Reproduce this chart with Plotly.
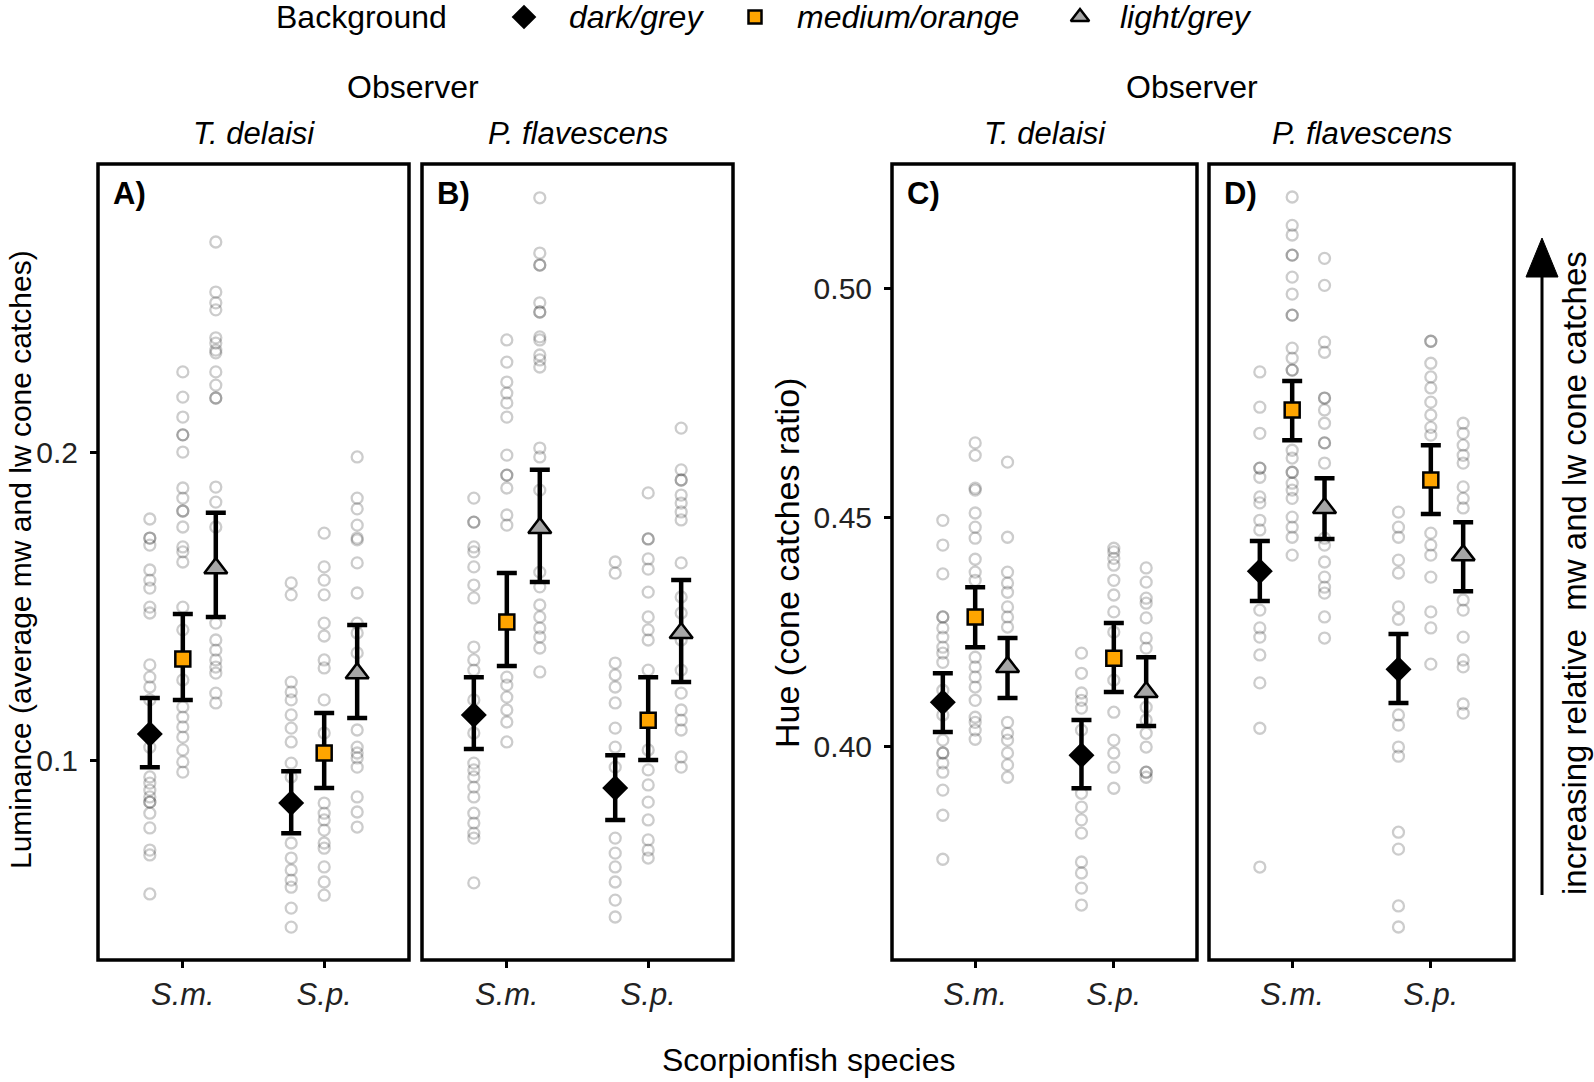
import plotly.graph_objects as go

# ---------------- categories ----------------
species = ["S.m.", "S.p."]
backgrounds = ["dark/grey", "medium/orange", "light/grey"]
observers = ["T. delaisi", "P. flavescens"]

lum_ticks = [0.1, 0.2]
lum_ticktext = ["0.1", "0.2"]
hue_ticks = [0.40, 0.45, 0.50]
hue_ticktext = ["0.40", "0.45", "0.50"]

# ---------------- Panel A: luminance, observer T. delaisi ----------------
A_sm_dark = [0.1785, 0.1723, 0.1723, 0.1700, 0.1619, 0.1586, 0.1560, 0.1498, 0.1479, 0.1310, 0.1270, 0.1238,
             0.1196, 0.1098, 0.1042, 0.0945, 0.0925, 0.0902, 0.0880, 0.0863, 0.0863, 0.0827, 0.0779, 0.0707,
             0.0691, 0.0564]
A_sm_med = [0.2264, 0.2182, 0.2117, 0.2059, 0.2059, 0.2003, 0.1886, 0.1853, 0.1811, 0.1811, 0.1759, 0.1694,
            0.1678, 0.1645, 0.1498, 0.1424, 0.1261, 0.1173, 0.1140, 0.1108, 0.1075, 0.1033, 0.0994, 0.0961]
A_sm_light = [0.2687, 0.2524, 0.2489, 0.2466, 0.2375, 0.2358, 0.2335, 0.2326, 0.2264, 0.2221, 0.2179, 0.2179,
              0.1889, 0.1840, 0.1759, 0.1446, 0.1391, 0.1358, 0.1326, 0.1303, 0.1283, 0.1218, 0.1186]
A_sp_dark = [0.1577, 0.1538, 0.1254, 0.1222, 0.1196, 0.1147, 0.1104, 0.1059, 0.0990, 0.0945, 0.0730, 0.0681,
             0.0642, 0.0609, 0.0586, 0.0518, 0.0456]
A_sp_med = [0.1739, 0.1629, 0.1586, 0.1538, 0.1446, 0.1404, 0.1326, 0.1300, 0.1196, 0.1088, 0.0860, 0.0827,
            0.0805, 0.0772, 0.0730, 0.0713, 0.0652, 0.0603, 0.0560]
A_sp_light = [0.1987, 0.1853, 0.1818, 0.1765, 0.1723, 0.1717, 0.1642, 0.1544, 0.1446, 0.1414, 0.1349, 0.1098,
              0.1042, 0.1023, 0.1007, 0.0977, 0.0880, 0.0831, 0.0782]
# order: S.m. dark, medium, light, S.p. dark, medium, light
A_mean = [0.1085, 0.1329, 0.1625, 0.0860, 0.1023, 0.1283]
A_lo = [0.0977, 0.1196, 0.1466, 0.0762, 0.0909, 0.1137]
A_hi = [0.1202, 0.1476, 0.1805, 0.0964, 0.1153, 0.1440]

# ---------------- Panel B: luminance, observer P. flavescens ----------------
B_sm_dark = [0.1853, 0.1775, 0.1775, 0.1694, 0.1678, 0.1629, 0.1570, 0.1528, 0.1368, 0.1326, 0.1293, 0.1196,
             0.1088, 0.0990, 0.0968, 0.0945, 0.0912, 0.0880, 0.0827, 0.0795, 0.0762, 0.0746, 0.0600]
B_sm_med = [0.2368, 0.2296, 0.2231, 0.2195, 0.2163, 0.2117, 0.1993, 0.1928, 0.1928, 0.1886, 0.1798, 0.1765,
            0.1270, 0.1244, 0.1205, 0.1163, 0.1124, 0.1059]
B_sm_light = [0.2831, 0.2651, 0.2612, 0.2612, 0.2489, 0.2459, 0.2459, 0.2378, 0.2368, 0.2319, 0.2303, 0.2280,
              0.2016, 0.1987, 0.1879, 0.1612, 0.1564, 0.1505, 0.1466, 0.1430, 0.1401, 0.1365, 0.1287]
B_sp_dark = [0.1645, 0.1609, 0.1316, 0.1277, 0.1238, 0.1186, 0.1104, 0.1042, 0.0977, 0.0746, 0.0697, 0.0652,
             0.0603, 0.0544, 0.0489]
B_sp_med = [0.1870, 0.1720, 0.1720, 0.1655, 0.1622, 0.1547, 0.1466, 0.1424, 0.1391, 0.1293, 0.1033, 0.0968,
            0.0919, 0.0863, 0.0805, 0.0740, 0.0707, 0.0681]
B_sp_light = [0.2081, 0.1945, 0.1912, 0.1912, 0.1863, 0.1837, 0.1808, 0.1782, 0.1642, 0.1531, 0.1479, 0.1391,
              0.1293, 0.1218, 0.1163, 0.1130, 0.1098, 0.1010, 0.0977]
B_mean = [0.1147, 0.1450, 0.1756, 0.0909, 0.1130, 0.1414]
B_lo = [0.1036, 0.1306, 0.1580, 0.0805, 0.1000, 0.1254]
B_hi = [0.1270, 0.1609, 0.1945, 0.1016, 0.1270, 0.1586]

# ---------------- Panel C: hue, observer T. delaisi ----------------
C_sm_dark = [0.4493, 0.4439, 0.4376, 0.4282, 0.4282, 0.4258, 0.4238, 0.4216, 0.4203, 0.4183, 0.4122, 0.4068,
             0.4013, 0.3985, 0.3985, 0.3963, 0.3943, 0.3904, 0.3849, 0.3753]
C_sm_med = [0.4662, 0.4635, 0.4563, 0.4559, 0.4509, 0.4478, 0.4454, 0.4408, 0.4380, 0.4362, 0.4194, 0.4173,
            0.4151, 0.4129, 0.4100, 0.4063, 0.4052, 0.4035, 0.4015]
C_sm_light = [0.4620, 0.4456, 0.4380, 0.4356, 0.4336, 0.4304, 0.4282, 0.4260, 0.4052, 0.4028, 0.4013, 0.3985,
              0.3959, 0.3932]
C_sp_dark = [0.4203, 0.4159, 0.4116, 0.4100, 0.4083, 0.4035, 0.3897, 0.3867, 0.3839, 0.3810, 0.3747, 0.3723,
             0.3690, 0.3653]
C_sp_med = [0.4432, 0.4424, 0.4410, 0.4395, 0.4362, 0.4330, 0.4293, 0.4249, 0.4144, 0.4074, 0.4013, 0.3985,
            0.3954, 0.3908]
C_sp_light = [0.4389, 0.4358, 0.4323, 0.4312, 0.4280, 0.4236, 0.4214, 0.4085, 0.4057, 0.4028, 0.3998, 0.3943,
              0.3943, 0.3932]
C_mean = [0.4096, 0.4282, 0.4173, 0.3980, 0.4192, 0.4118]
C_lo = [0.4031, 0.4216, 0.4105, 0.3908, 0.4118, 0.4044]
C_hi = [0.4159, 0.4347, 0.4236, 0.4057, 0.4269, 0.4194]

# ---------------- Panel D: hue, observer P. flavescens ----------------
D_sm_dark = [0.4817, 0.4740, 0.4683, 0.4607, 0.4607, 0.4587, 0.4544, 0.4531, 0.4493, 0.4472, 0.4297, 0.4258,
             0.4238, 0.4199, 0.4138, 0.4039, 0.3736]
D_sm_med = [0.5199, 0.5137, 0.5116, 0.5072, 0.5072, 0.5024, 0.4987, 0.4941, 0.4941, 0.4869, 0.4847, 0.4821,
            0.4821, 0.4646, 0.4629, 0.4598, 0.4598, 0.4574, 0.4559, 0.4541, 0.4500, 0.4478, 0.4456, 0.4417]
D_sm_light = [0.5065, 0.5006, 0.4882, 0.4860, 0.4760, 0.4760, 0.4734, 0.4705, 0.4662, 0.4662, 0.4618, 0.4454,
              0.4439, 0.4402, 0.4369, 0.4347, 0.4334, 0.4282, 0.4236]
D_sp_dark = [0.4511, 0.4478, 0.4456, 0.4406, 0.4378, 0.4304, 0.4277, 0.4068, 0.4046, 0.3998, 0.3978, 0.3812,
             0.3775, 0.3651, 0.3605]
D_sp_med = [0.4884, 0.4884, 0.4836, 0.4806, 0.4782, 0.4751, 0.4723, 0.4696, 0.4679, 0.4465, 0.4439, 0.4417,
            0.4369, 0.4293, 0.4258, 0.4179]
D_sp_light = [0.4705, 0.4683, 0.4657, 0.4635, 0.4618, 0.4566, 0.4541, 0.4520, 0.4319, 0.4297, 0.4238, 0.4188,
              0.4173, 0.4092, 0.4072]
D_mean = [0.4382, 0.4734, 0.4520, 0.4168, 0.4581, 0.4417]
D_lo = [0.4317, 0.4668, 0.4452, 0.4094, 0.4507, 0.4338]
D_hi = [0.4448, 0.4797, 0.4585, 0.4245, 0.4657, 0.4489]

lum_range = [0.0349, 0.2941]
hue_range = [0.3533, 0.5271]

# ---------------- styling / layout ----------------
W, H = 1594, 1082
TXT = "Liberation Sans, Arial, sans-serif"
DODGE = [-0.7 / 3, 0.0, 0.7 / 3]
PANEL_TOP, PANEL_BOT = 164, 960

mean_style = {
    "dark/grey": dict(symbol="diamond", size=20, color="black", line=dict(color="black", width=0)),
    "medium/orange": dict(symbol="square", size=15, color="#FFA500", line=dict(color="black", width=2.5)),
    "light/grey": dict(symbol="triangle-up", size=20, color="#A6A6A6", line=dict(color="black", width=2.5)),
}
legend_size = {"dark/grey": 19, "medium/orange": 13, "light/grey": 16}

panels = [
    dict(letter="A", obs=observers[0], px=(98, 409),
         pts=[[A_sm_dark, A_sm_med, A_sm_light], [A_sp_dark, A_sp_med, A_sp_light]],
         mean=A_mean, lo=A_lo, hi=A_hi, yr=lum_range, tv=lum_ticks, tt=lum_ticktext, showy=True),
    dict(letter="B", obs=observers[1], px=(422, 733),
         pts=[[B_sm_dark, B_sm_med, B_sm_light], [B_sp_dark, B_sp_med, B_sp_light]],
         mean=B_mean, lo=B_lo, hi=B_hi, yr=lum_range, tv=lum_ticks, tt=lum_ticktext, showy=False),
    dict(letter="C", obs=observers[0], px=(892, 1197),
         pts=[[C_sm_dark, C_sm_med, C_sm_light], [C_sp_dark, C_sp_med, C_sp_light]],
         mean=C_mean, lo=C_lo, hi=C_hi, yr=hue_range, tv=hue_ticks, tt=hue_ticktext, showy=True),
    dict(letter="D", obs=observers[1], px=(1209, 1514),
         pts=[[D_sm_dark, D_sm_med, D_sm_light], [D_sp_dark, D_sp_med, D_sp_light]],
         mean=D_mean, lo=D_lo, hi=D_hi, yr=hue_range, tv=hue_ticks, tt=hue_ticktext, showy=False),
]

fig = go.Figure()
layout = {}
shapes = []
annotations = []

for i, p in enumerate(panels, start=1):
    xa = "x" if i == 1 else f"x{i}"
    ya = "y" if i == 1 else f"y{i}"
    # raw observations
    for s in range(len(species)):
        for b in range(len(backgrounds)):
            vals = p["pts"][s][b]
            fig.add_trace(go.Scatter(
                x=[s + 1 + DODGE[b]] * len(vals), y=vals, mode="markers",
                marker=dict(symbol="circle-open", size=11, color="rgba(0,0,0,0.2)", line=dict(width=2.3)),
                xaxis=xa, yaxis=ya, showlegend=False, hoverinfo="skip"))
    # model means with error bars
    for b, bg in enumerate(backgrounds):
        idx = [b, 3 + b]
        m = [p["mean"][k] for k in idx]
        up = [p["hi"][k] - p["mean"][k] for k in idx]
        dn = [p["mean"][k] - p["lo"][k] for k in idx]
        fig.add_trace(go.Scatter(
            x=[s + 1 + DODGE[b] for s in range(len(species))], y=m, mode="markers",
            marker=mean_style[bg],
            error_y=dict(type="data", symmetric=False, array=up, arrayminus=dn,
                         thickness=4.5, width=10, color="black"),
            xaxis=xa, yaxis=ya, showlegend=False, name=bg))

    xk = "xaxis" if i == 1 else f"xaxis{i}"
    yk = "yaxis" if i == 1 else f"yaxis{i}"
    x0, x1 = p["px"]
    layout[xk] = dict(domain=[x0 / W, x1 / W], range=[0.4, 2.6], anchor=ya,
                      tickvals=[1, 2], ticktext=species, ticks="outside", ticklen=7, tickwidth=2.5,
                      tickcolor="black", showgrid=False, zeroline=False, showline=False,
                      ticklabelstandoff=0,
                      tickfont=dict(family=TXT, size=31, style="italic", color="#222"))
    layout[yk] = dict(domain=[1 - PANEL_BOT / H, 1 - PANEL_TOP / H], range=p["yr"], anchor=xa,
                      tickvals=p["tv"], ticktext=p["tt"], showticklabels=p["showy"],
                      ticks="outside" if p["showy"] else "", ticklen=7, tickwidth=2.5, tickcolor="black",
                      showgrid=False, zeroline=False, showline=False, ticklabelstandoff=6,
                      tickfont=dict(family=TXT, size=30, color="#222"))
    shapes.append(dict(type="rect", xref=f"{xa} domain", yref=f"{ya} domain", x0=0, x1=1, y0=0, y1=1,
                       line=dict(color="black", width=3.5), fillcolor="rgba(0,0,0,0)", layer="above"))
    # strip label
    annotations.append(dict(xref="x5", yref="y5", x=(x0 + x1) / 2, y=133, text=p["obs"], showarrow=False,
                            font=dict(family=TXT, size=31, style="italic", color="black")))
    # panel letter
    annotations.append(dict(xref="x5", yref="y5", x=x0 + 13, y=193, xanchor="left", text=f"<b>{p['letter']})</b>",
                            showarrow=False, font=dict(family=TXT, size=31, color="black")))

# overlay pixel axis for legend keys / decorations
layout["xaxis5"] = dict(domain=[0, 1], range=[0, W], anchor="y5", visible=False, fixedrange=True)
layout["yaxis5"] = dict(domain=[0, 1], range=[H, 0], anchor="x5", visible=False, fixedrange=True)

legend_keys_x = [524, 755, 1080]
legend_text_x = [567, 795, 1118]
for b, bg in enumerate(backgrounds):
    st = dict(mean_style[bg])
    st["size"] = legend_size[bg]
    fig.add_trace(go.Scatter(x=[legend_keys_x[b]], y=[17], mode="markers", marker=st,
                             xaxis="x5", yaxis="y5", showlegend=False, hoverinfo="skip", cliponaxis=False))
    annotations.append(dict(xref="x5", yref="y5", x=legend_text_x[b], y=17, xanchor="left", text=bg,
                            showarrow=False, font=dict(family=TXT, size=32, style="italic", color="black")))
annotations.append(dict(xref="x5", yref="y5", x=361, y=17, text="Background", showarrow=False,
                        font=dict(family=TXT, size=32, color="black")))

annotations += [
    dict(xref="x5", yref="y5", x=413, y=87, text="Observer", showarrow=False,
         font=dict(family=TXT, size=32, color="black")),
    dict(xref="x5", yref="y5", x=1192, y=87, text="Observer", showarrow=False,
         font=dict(family=TXT, size=32, color="black")),
    dict(xref="x5", yref="y5", x=808, y=1060, text="Scorpionfish species", showarrow=False,
         font=dict(family=TXT, size=32, color="black")),
    dict(xref="x5", yref="y5", x=20, y=560, text="Luminance (average mw and lw cone catches)", textangle=-90,
         showarrow=False, font=dict(family=TXT, size=30, color="black")),
    dict(xref="x5", yref="y5", x=787, y=563, text="Hue (cone catches ratio)", textangle=-90,
         showarrow=False, font=dict(family=TXT, size=34, color="black")),
    dict(xref="x5", yref="y5", x=1574, y=573, text="increasing relative&nbsp; mw and lw cone catches",
         textangle=-90, showarrow=False, font=dict(family=TXT, size=33, color="black")),
]

# arrow on the right
shapes.append(dict(type="line", xref="x5", yref="y5", x0=1542, x1=1542, y0=895, y1=272,
                   line=dict(color="black", width=3)))
shapes.append(dict(type="path", xref="x5", yref="y5", path="M 1526 277 L 1558 277 L 1542 238 Z",
                   fillcolor="black", line=dict(color="black", width=1)))

fig.update_layout(
    width=W, height=H, autosize=False,
    margin=dict(l=0, r=0, t=0, b=0),
    paper_bgcolor="white", plot_bgcolor="rgba(0,0,0,0)",
    template="none",
    showlegend=False,
    shapes=shapes, annotations=annotations,
    **layout,
)

fig.write_html("out.html", config={"displayModeBar": False},
               post_script="document.body.style.margin='0px';")
